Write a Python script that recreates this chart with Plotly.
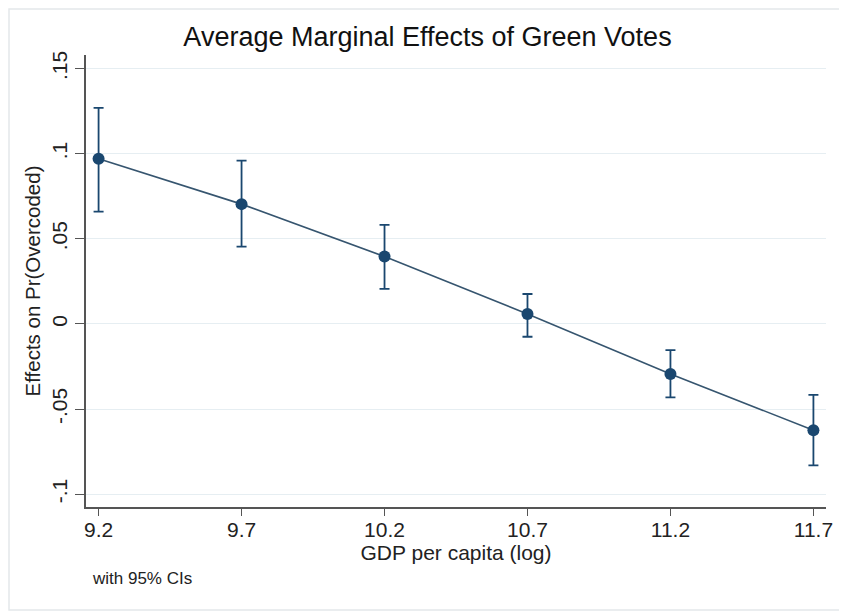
import plotly.graph_objects as go

gdp = [9.2, 9.7, 10.2, 10.7, 11.2, 11.7]
effect = [0.097, 0.0704, 0.0396, 0.0059, -0.0294, -0.0624]
ci_upper = [0.127, 0.096, 0.0582, 0.0176, -0.0153, -0.0416]
ci_lower = [0.066, 0.0455, 0.0206, -0.0075, -0.0431, -0.083]

y_tickvals = [-0.1, -0.05, 0, 0.05, 0.1, 0.15]
y_ticktext = ["-.1", "-.05", "0", ".05", ".1", ".15"]
x_tickvals = [9.2, 9.7, 10.2, 10.7, 11.2, 11.7]
x_ticktext = ["9.2", "9.7", "10.2", "10.7", "11.2", "11.7"]

navy = "#1a476f"
font = "Liberation Sans, Arial, sans-serif"

# page body has an 8px margin; figure placed at (8,8) in the window
W, H = 839, 606
L, R, T, B = 78, 21, 47, 107
PW, PH = W - L - R, H - T - B

fig = go.Figure()
fig.add_trace(go.Scatter(
    x=gdp, y=effect, mode="lines+markers",
    line=dict(color="#36556f", width=1.6),
    marker=dict(color=navy, size=12),
    error_y=dict(
        type="data", symmetric=False,
        array=[u - e for u, e in zip(ci_upper, effect)],
        arrayminus=[e - l for e, l in zip(effect, ci_lower)],
        color=navy, thickness=1.8, width=5,
    ),
    showlegend=False,
))

fig.update_layout(
    width=W, height=H,
    margin=dict(l=L, r=R, t=T, b=B),
    paper_bgcolor="white", plot_bgcolor="white",
    font=dict(family=font, color="#222", size=21),
    title=dict(text="Average Marginal Effects of Green Votes",
               x=0.5, xanchor="center", y=1 - 29 / H, yanchor="middle",
               font=dict(size=27, color="#111")),
    xaxis=dict(
        range=[9.156, 11.744], tickvals=x_tickvals, ticktext=x_ticktext,
        showgrid=False, zeroline=False, automargin=False,
        showline=True, linecolor="#555", linewidth=1.6,
        ticks="outside", ticklen=7, tickcolor="#555", tickwidth=1.4,
        ticklabelstandoff=-4,
        tickfont=dict(size=21, color="#222"),
        title=dict(text="GDP per capita (log)", font=dict(size=21, color="#222"), standoff=0),
    ),
    yaxis=dict(
        range=[-0.1075, 0.158], tickvals=y_tickvals, ticktext=y_ticktext,
        tickangle=-90, automargin=False,
        showgrid=True, gridcolor="#e6eef2", gridwidth=1, zeroline=False,
        showline=True, linecolor="#555", linewidth=1.6,
        ticks="outside", ticklen=9, tickcolor="#555", tickwidth=1.4,
        tickfont=dict(size=21, color="#222"),
        title=dict(text="Effects on Pr(Overcoded)", font=dict(size=20.5, color="#222"), standoff=2),
    ),
    annotations=[dict(
        text="with 95% CIs", xref="paper", yref="paper",
        x=4 / PW, y=-71 / PH, xanchor="left", yanchor="middle",
        showarrow=False, font=dict(size=17, color="#222"),
    )],
    shapes=[dict(
        type="rect", xref="paper", yref="paper",
        x0=(1 - L) / PW, x1=(833 - L) / PW,
        y0=-(602 - (H - B)) / PH, y1=((H - B) - 1) / PH,
        line=dict(color="#e4e8ea", width=1.5), fillcolor="rgba(0,0,0,0)", layer="below",
    )],
)

fig.write_html("out.html")
